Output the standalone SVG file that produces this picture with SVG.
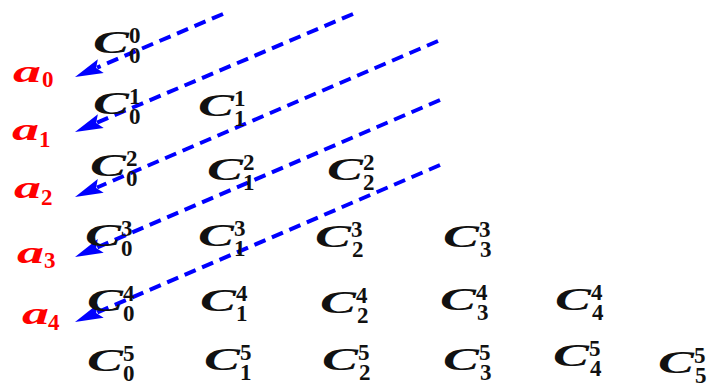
<svg xmlns="http://www.w3.org/2000/svg" width="715" height="385" viewBox="0 0 715 385">
<style>
.C{font-family:"Liberation Serif",serif;font-weight:bold;font-style:italic;font-size:31px;fill:#111}
.d{font-family:"Liberation Serif",serif;font-weight:bold;font-size:23px;fill:#111}
.a{font-family:"Liberation Serif",serif;font-weight:bold;font-style:italic;font-size:32px;fill:#ff0000}
.ad{font-family:"Liberation Serif",serif;font-weight:bold;font-size:23px;fill:#ff0000}
.ln{stroke:#0000ff;stroke-width:4;stroke-dasharray:12 7;fill:none}
</style>
<defs>
<marker id="ah" markerUnits="userSpaceOnUse" markerWidth="32" markerHeight="20" viewBox="0 -10 32 20" refX="4" refY="0" orient="auto">
<path d="M28,0 L0,-7.5 L5,0 L0,7.5 Z" fill="#0000ff"/>
</marker>
</defs>
<rect width="715" height="385" fill="#ffffff"/>
<g id="connectors">
<line class="ln" x1="223" y1="14" x2="97.1" y2="67.6" marker-end="url(#ah)"/>
<line class="ln" x1="353" y1="14" x2="97.1" y2="122.6" marker-end="url(#ah)"/>
<line class="ln" x1="438" y1="41" x2="97.05" y2="187.5" marker-end="url(#ah)"/>
<line class="ln" x1="440" y1="100" x2="97.05" y2="247.5" marker-end="url(#ah)"/>
<line class="ln" x1="440" y1="165" x2="97.05" y2="312.5" marker-end="url(#ah)"/>
</g>
<g id="a0"><text class="a" x="13" y="82" textLength="28" lengthAdjust="spacingAndGlyphs">a</text><text class="ad" x="42" y="87">0</text></g>
<g id="a1"><text class="a" x="12" y="140" textLength="27" lengthAdjust="spacingAndGlyphs">a</text><text class="ad" x="39" y="147">1</text></g>
<g id="a2"><text class="a" x="14" y="198" textLength="27" lengthAdjust="spacingAndGlyphs">a</text><text class="ad" x="41" y="205">2</text></g>
<g id="a3"><text class="a" x="17" y="263" textLength="27" lengthAdjust="spacingAndGlyphs">a</text><text class="ad" x="44" y="268">3</text></g>
<g id="a4"><text class="a" x="22" y="324" textLength="27" lengthAdjust="spacingAndGlyphs">a</text><text class="ad" x="48" y="330">4</text></g>

<g id="C_0_0"><text class="C" x="93" y="53" textLength="36" lengthAdjust="spacingAndGlyphs">C</text><text class="d" x="129" y="43">0</text><text class="d" x="129" y="63">0</text></g>

<g id="C_0_1"><text class="C" x="93" y="114" textLength="36" lengthAdjust="spacingAndGlyphs">C</text><text class="d" x="129" y="104">1</text><text class="d" x="129" y="124">0</text></g>
<g id="C_1_1"><text class="C" x="198" y="116" textLength="36" lengthAdjust="spacingAndGlyphs">C</text><text class="d" x="234" y="106">1</text><text class="d" x="234" y="126">1</text></g>

<g id="C_0_2"><text class="C" x="90" y="176" textLength="36" lengthAdjust="spacingAndGlyphs">C</text><text class="d" x="126" y="166">2</text><text class="d" x="126" y="186">0</text></g>
<g id="C_1_2"><text class="C" x="207" y="180" textLength="36" lengthAdjust="spacingAndGlyphs">C</text><text class="d" x="243" y="170">2</text><text class="d" x="243" y="190">1</text></g>
<g id="C_2_2"><text class="C" x="327" y="180" textLength="36" lengthAdjust="spacingAndGlyphs">C</text><text class="d" x="363" y="170">2</text><text class="d" x="363" y="190">2</text></g>

<g id="C_0_3"><text class="C" x="85" y="246" textLength="36" lengthAdjust="spacingAndGlyphs">C</text><text class="d" x="121" y="236">3</text><text class="d" x="121" y="256">0</text></g>
<g id="C_1_3"><text class="C" x="198" y="246" textLength="36" lengthAdjust="spacingAndGlyphs">C</text><text class="d" x="234" y="236">3</text><text class="d" x="234" y="256">1</text></g>
<g id="C_2_3"><text class="C" x="315" y="247" textLength="36" lengthAdjust="spacingAndGlyphs">C</text><text class="d" x="351" y="237">3</text><text class="d" x="352" y="257">2</text></g>
<g id="C_3_3"><text class="C" x="443" y="247" textLength="36" lengthAdjust="spacingAndGlyphs">C</text><text class="d" x="479" y="237">3</text><text class="d" x="480" y="257">3</text></g>

<g id="C_0_4"><text class="C" x="87" y="311" textLength="36" lengthAdjust="spacingAndGlyphs">C</text><text class="d" x="123" y="301">4</text><text class="d" x="123" y="321">0</text></g>
<g id="C_1_4"><text class="C" x="200" y="311" textLength="36" lengthAdjust="spacingAndGlyphs">C</text><text class="d" x="236" y="301">4</text><text class="d" x="236" y="321">1</text></g>
<g id="C_2_4"><text class="C" x="320" y="313" textLength="36" lengthAdjust="spacingAndGlyphs">C</text><text class="d" x="356" y="303">4</text><text class="d" x="357" y="323">2</text></g>
<g id="C_3_4"><text class="C" x="440" y="310" textLength="36" lengthAdjust="spacingAndGlyphs">C</text><text class="d" x="476" y="300">4</text><text class="d" x="477" y="320">3</text></g>
<g id="C_4_4"><text class="C" x="555" y="310" textLength="36" lengthAdjust="spacingAndGlyphs">C</text><text class="d" x="591" y="300">4</text><text class="d" x="592" y="320">4</text></g>

<g id="C_0_5"><text class="C" x="87" y="371" textLength="36" lengthAdjust="spacingAndGlyphs">C</text><text class="d" x="123" y="361">5</text><text class="d" x="123" y="381">0</text></g>
<g id="C_1_5"><text class="C" x="204" y="370" textLength="36" lengthAdjust="spacingAndGlyphs">C</text><text class="d" x="240" y="360">5</text><text class="d" x="240" y="380">1</text></g>
<g id="C_2_5"><text class="C" x="322" y="370" textLength="36" lengthAdjust="spacingAndGlyphs">C</text><text class="d" x="358" y="360">5</text><text class="d" x="359" y="380">2</text></g>
<g id="C_3_5"><text class="C" x="443" y="370" textLength="36" lengthAdjust="spacingAndGlyphs">C</text><text class="d" x="479" y="360">5</text><text class="d" x="480" y="380">3</text></g>
<g id="C_4_5"><text class="C" x="553" y="366" textLength="36" lengthAdjust="spacingAndGlyphs">C</text><text class="d" x="589" y="356">5</text><text class="d" x="590" y="376">4</text></g>
<g id="C_5_5"><text class="C" x="658" y="373" textLength="36" lengthAdjust="spacingAndGlyphs">C</text><text class="d" x="694" y="363">5</text><text class="d" x="695" y="383">5</text></g>
</svg>
